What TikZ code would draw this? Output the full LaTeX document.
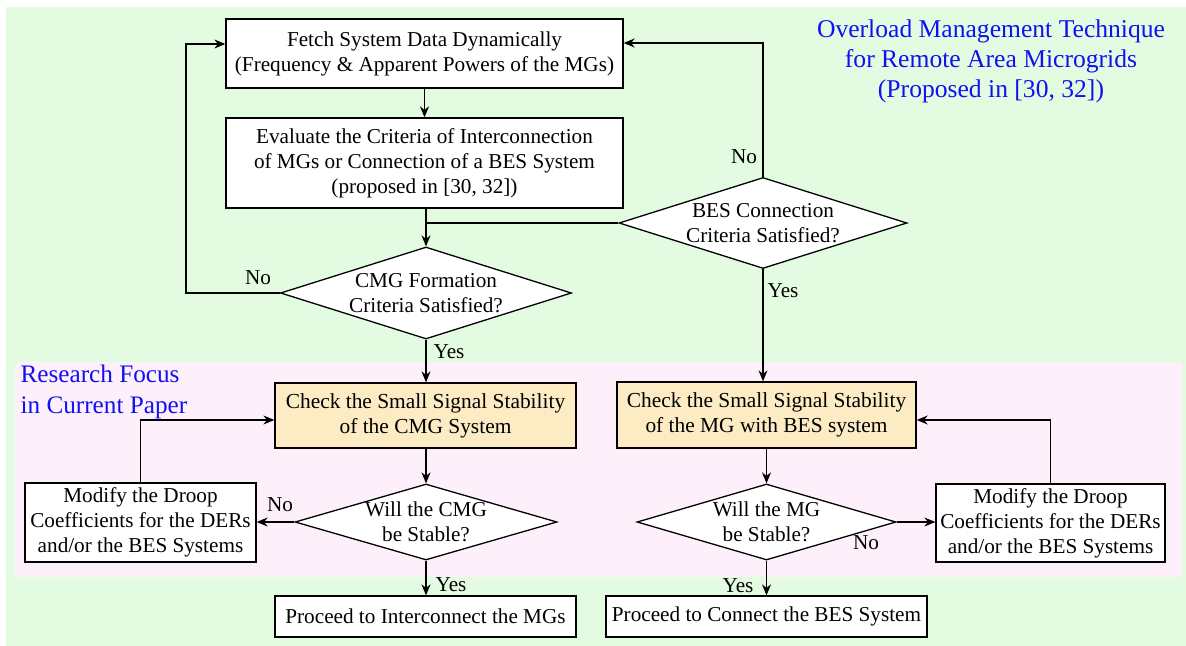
\documentclass[tikz,border=0pt]{standalone}
\usepackage{fontspec}
\setmainfont{Liberation Serif}
\usepackage{tikz}
\usetikzlibrary{shapes.geometric,arrows.meta}
\definecolor{bggreen}{HTML}{E3FCE1}
\definecolor{bgpink}{HTML}{FEF0FA}
\definecolor{checkfill}{HTML}{FDEBC4}
\definecolor{titleblue}{HTML}{1010F0}
\tikzstyle{procbox} = [draw=black, fill=white, rectangle, align=center, inner sep=0pt, font=\fontsize{10.6}{12.5}\selectfont]
\tikzstyle{checkbox} = [procbox, fill=checkfill, font=\fontsize{10.7}{12.6}\selectfont]
\tikzstyle{decision} = [draw=black, fill=white, diamond, align=center, inner sep=0pt, font=\fontsize{10.6}{12.5}\selectfont]
\tikzstyle{flow} = [-{Stealth[length=5.5pt,width=4.5pt]}]
\tikzstyle{answer} = [font=\fontsize{10.6}{12.5}\selectfont, inner sep=0pt]
\tikzstyle{bluenote} = [text=titleblue, align=center, inner sep=0pt]

\begin{document}
\begin{tikzpicture}[x=0.5pt, y=-0.5pt, line width=0.65pt]
\useasboundingbox (0,0) rectangle (1186,646);
% backgrounds
\fill[bggreen] (6,7) rectangle (1186,646);
\fill[bgpink] (15,362) rectangle (1182,577);
\node[bluenote, font=\fontsize{12.8}{15}\selectfont] (title) at (991,61) {Overload Management Technique\\for Remote Area Microgrids\\(Proposed in [30, 32])};
\node[bluenote, align=left, anchor=west, font=\fontsize{12.6}{15.5}\selectfont] (focus) at (20,392) {Research Focus\\in Current Paper};

% upper part
\node[procbox, minimum width=198.5pt, minimum height=34.5pt] (fetch) at (424.5,53.5) {Fetch System Data Dynamically\\(Frequency \& Apparent Powers of the MGs)};
\node[procbox, minimum width=198.5pt, minimum height=45pt] (evaluate) at (424.5,163) {Evaluate the Criteria of Interconnection\\of MGs or Connection of a BES System\\(proposed in [30, 32])};
\node[decision, aspect=3.16, minimum width=145.5pt, minimum height=46pt] (cmgdec) at (426,293) {CMG Formation\\Criteria Satisfied?};
\node[decision, aspect=3.16, minimum width=144pt, minimum height=45.5pt] (besdec) at (763,223) {BES Connection\\Criteria Satisfied?};

% research focus part
\node[checkbox, minimum width=150.5pt, minimum height=32.5pt] (checkcmg) at (425.5,415.5) {Check the Small Signal Stability\\of the CMG System};
\node[checkbox, minimum width=149.5pt, minimum height=33pt] (checkbes) at (766.5,415) {Check the Small Signal Stability\\of the MG with BES system};
\node[decision, aspect=3.4, minimum width=131pt, minimum height=38pt] (willcmg) at (426,522) {Will the CMG\\be Stable?};
\node[decision, aspect=3.4, minimum width=129.5pt, minimum height=38pt] (willmg) at (766.5,522) {Will the MG\\be Stable?};
\node[procbox, minimum width=115.5pt, minimum height=39.5pt] (modl) at (140.5,522.5) {Modify the Droop\\Coefficients for the DERs\\and/or the BES Systems};
\node[procbox, minimum width=114.5pt, minimum height=39pt] (modr) at (1050.5,523) {Modify the Droop\\Coefficients for the DERs\\and/or the BES Systems};
\node[procbox, minimum width=150.5pt, minimum height=20.5pt] (procmg) at (425.5,616.5) {Proceed to Interconnect the MGs};
\node[procbox, minimum width=160.5pt, minimum height=20.5pt] (procbes) at (766.5,616.5) {Proceed to Connect the BES System};

% connectors
\draw[flow] (fetch) -- (evaluate);
\draw[flow] (evaluate.south -| cmgdec.north) -- (cmgdec.north);
\draw (besdec.west) -- (besdec.west -| cmgdec.north);
\draw[flow] (cmgdec.west) -- (186,293) |- ([yshift=4.75pt]fetch.west);
\draw[flow] (besdec.north) |- ([yshift=5.25pt]fetch.east);
\draw[flow] (besdec.south) -- (besdec.south |- checkbes.north);
\draw[flow] (cmgdec.south) -- (cmgdec.south |- checkcmg.north);
\draw[flow] (checkcmg.south -| willcmg.north) -- (willcmg.north);
\draw[flow] (willcmg.west) -- (modl.east |- willcmg.west);
\draw[flow] (modl.north) |- ([yshift=-2.25pt]checkcmg.west);
\draw[flow] (willcmg.south) -- (willcmg.south |- procmg.north);
\draw[flow] (checkbes.south) -- (willmg.north);
\draw[flow] (willmg.east) -- (modr.west |- willmg.east);
\draw[flow] (modr.north) |- ([yshift=-2.5pt]checkbes.east);
\draw[flow] (willmg.south) -- (procbes.north);

% answers
\node[answer] (nocmg) at (258,278) {No};
\node[answer] (nobes) at (744,157) {No};
\node[answer] (yesbes) at (783,291) {Yes};
\node[answer] (yescmg) at (449,352) {Yes};
\node[answer] (nowillcmg) at (280,505) {No};
\node[answer] (yeswillcmg) at (451,585) {Yes};
\node[answer] (nowillmg) at (866,543) {No};
\node[answer] (yeswillmg) at (738,586) {Yes};
\end{tikzpicture}
\end{document}
